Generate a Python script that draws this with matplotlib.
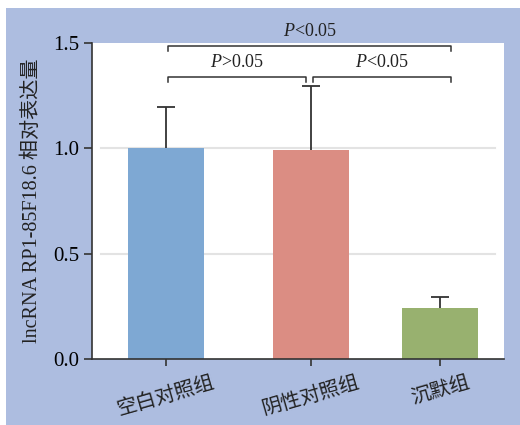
import matplotlib.pyplot as plt
from matplotlib.patches import Rectangle

groups = ["空白对照组", "阴性对照组", "沉默组"]
means = [1.0, 0.99, 0.243]
errors = [0.195, 0.305, 0.052]
colors = ["#7ea8d3", "#db8d83", "#98b16f"]
xpos = [0, 1, 1.89]

# pairwise comparisons: (left group, right group, label, bracket height)
comparisons = [
    (0, 2, "$P$<0.05", 1.487),
    (0, 1, "$P$>0.05", 1.34),
    (1, 2, "$P$<0.05", 1.34),
]

plt.rcParams["mathtext.fontset"] = "custom"
plt.rcParams["mathtext.it"] = "Liberation Serif:italic"
plt.rcParams["mathtext.rm"] = "Liberation Serif"

serif = ["Liberation Serif", "Noto Sans CJK SC"]
cjk = ["Noto Sans CJK SC", "DejaVu Sans"]

fig = plt.figure(figsize=(5.2, 4.25), dpi=100)
fig.add_artist(Rectangle((6 / 520, 0), 1, 1 - 8 / 425, transform=fig.transFigure,
                         facecolor="#adbde0", edgecolor="none", zorder=-10))
ax = fig.add_axes([92 / 520, (425 - 359) / 425, (504 - 92) / 520, (359 - 43) / 425])
ax.set_facecolor("white")

# symmetric error bars sit behind the bars so only the upper half shows
ax.errorbar(xpos, means, yerr=errors, fmt="none", ecolor="#333333",
            elinewidth=1.3, capsize=6.8, capthick=1.3, zorder=1.5)
ax.bar(xpos, means, width=0.524, color=colors, zorder=2)

for y in (0.5, 1.0):
    ax.plot([-0.45, 2.27], [y, y], color="#e3e3e3", lw=1.5, zorder=1)

ax.set_xlim(-0.51, 2.33)
ax.set_ylim(0, 1.5)
ax.set_yticks([0, 0.5, 1.0, 1.5])
ax.set_yticklabels(["0.0", "0.5", "1.0", "1.5"], family="Liberation Serif", fontsize=15)
ax.set_xticks(xpos)
ax.set_xticklabels(groups, family=cjk, fontsize=14.5, rotation=16, ha="center",
                   color="#222222")
ax.tick_params(axis="y", length=6, width=1.2, color="#333333", pad=3)
ax.tick_params(axis="x", length=5, width=1.2, color="#333333", pad=4)

for s in ("top", "right"):
    ax.spines[s].set_visible(False)
for s in ("left", "bottom"):
    ax.spines[s].set_color("#333333")
    ax.spines[s].set_linewidth(1.2)

ax.set_ylabel("lncRNA RP1-85F18.6 相对表达量", family=serif, fontsize=14.5,
              labelpad=8, color="#222222")

# significance brackets; the two short ones leave a small gap at the middle bar,
# and brackets to the last group reach a little past its centre
for a, b, txt, h in comparisons:
    x0 = xpos[a] + (0.014 if a == 0 else 0.014)
    x1 = xpos[b] + (0.076 if b == 2 else -0.034)
    ax.plot([x0, x0, x1, x1], [h - 0.025, h, h, h - 0.025], color="#333333",
            lw=1.1, clip_on=False, zorder=4)
    ax.text((x0 + x1) / 2, h + 0.025, txt, family="Liberation Serif", fontsize=13,
            ha="center", va="bottom", color="#222222", clip_on=False)

fig.savefig("out.png", dpi=100)
